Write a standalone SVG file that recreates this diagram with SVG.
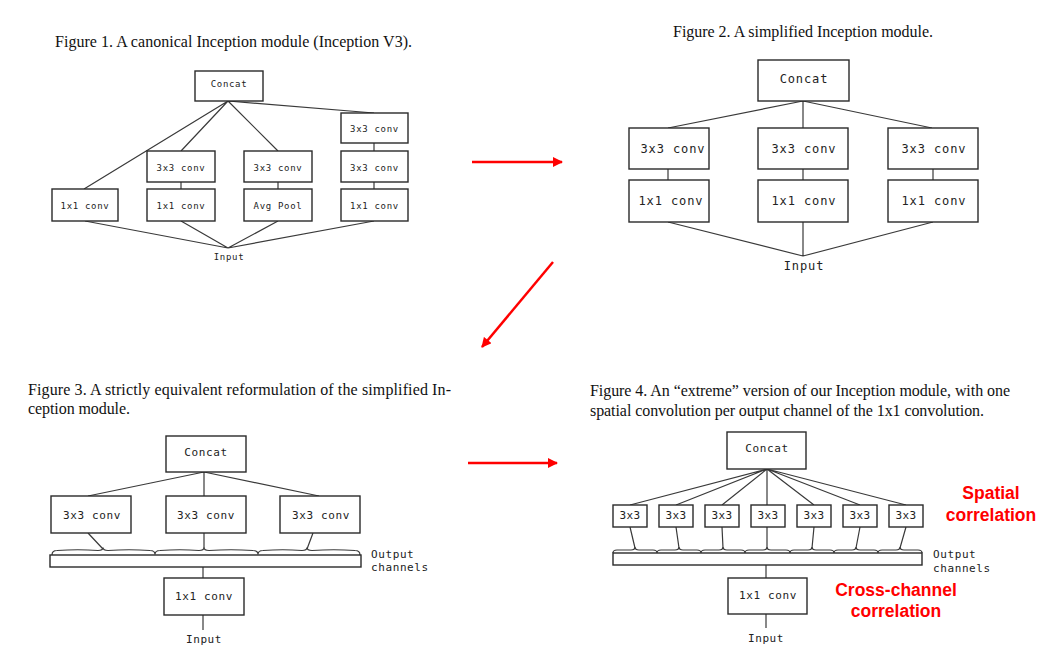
<svg xmlns="http://www.w3.org/2000/svg" width="1050" height="672" viewBox="0 0 1050 672">
<style>
.bg{fill:#ffffff}
.title{font-family:"Liberation Serif","Times New Roman",serif;font-size:16px;fill:#111}
.box{fill:#ffffff;stroke:#2a2a2a;stroke-width:1.4}
.ln{stroke:#3a3a3a;stroke-width:1.2;fill:none}
.m1{font-family:"DejaVu Sans Mono",monospace;font-size:9px;letter-spacing:0.7px;fill:#222;text-anchor:middle}
.m2{font-family:"DejaVu Sans Mono",monospace;font-size:12px;letter-spacing:0.9px;fill:#222;text-anchor:middle}
.m3{font-family:"DejaVu Sans Mono",monospace;font-size:11px;letter-spacing:0.6px;fill:#222;text-anchor:middle}
.m3s{font-family:"DejaVu Sans Mono",monospace;font-size:11px;letter-spacing:0.3px;fill:#222;text-anchor:middle}
.m3l{font-family:"DejaVu Sans Mono",monospace;font-size:11px;letter-spacing:0.6px;fill:#222}
.red{font-family:"Liberation Sans",Arial,sans-serif;font-size:17.5px;font-weight:bold;fill:#ff0000;text-anchor:middle}
.arr{stroke:#ff0000;stroke-width:2.5;fill:none}
</style>
<defs>
<marker id="ah" viewBox="0 0 10 10" refX="9" refY="5" markerWidth="11" markerHeight="10" markerUnits="userSpaceOnUse" orient="auto">
<path d="M0,0 L10,5 L0,10 z" fill="#ff0000"/>
</marker>
</defs>
<rect class="bg" x="0" y="0" width="1050" height="672"/>

<!-- Titles -->
<text class="title" x="55" y="47" textLength="357">Figure 1. A canonical Inception module (Inception V3).</text>
<text class="title" x="673" y="37" textLength="260">Figure 2. A simplified Inception module.</text>
<text class="title" x="28" y="395" textLength="423">Figure 3. A strictly equivalent reformulation of the simplified In-</text>
<text class="title" x="28" y="414" textLength="102">ception module.</text>
<text class="title" x="590" y="396" textLength="420">Figure 4. An “extreme” version of our Inception module, with one</text>
<text class="title" x="590" y="416" textLength="394">spatial convolution per output channel of the 1x1 convolution.</text>

<!-- Connectors -->
<g id="connectors">
  <!-- Fig 1 -->
  <path class="ln" d="M228,101 L84,189 M228,101 L181,151 M228,101 L278,151 M228,101 L374,113"/>
  <path class="ln" d="M181,182 V189 M278,182 V189 M374,143 V151 M374,182 V189"/>
  <path class="ln" d="M85,221 L228,248 M181,221 L228,248 M278,221 L228,248 M374,221 L228,248"/>
  <!-- Fig 2 -->
  <path class="ln" d="M803,101 L668,128 M803,101 V128 M803,101 L932,128"/>
  <path class="ln" d="M668,169 V180 M803,169 V180 M933,169 V180"/>
  <path class="ln" d="M668,222 L803,256 M803,222 V256 M933,222 L803,256"/>
  <!-- Fig 3 -->
  <path class="ln" d="M204,472 L88,496 M204,472 V496 M204,472 L319,496"/>
  <path class="ln" d="M88,533 L103,549 M204,533 V548 M313,533 L307,549"/>
  <path class="ln" d="M52,555 Q52,550.5 57,550.5 Q78,549 98,550.5 Q103,550.5 103,547.5 Q103,550.5 108,550.5 Q129,549 150,550.5 Q155,550.5 155,554.5 Q155,550.5 160,550.5 Q180,549 199,550.5 Q204,550.5 204,547.5 Q204,550.5 209,550.5 Q231,549 253,550.5 Q258,550.5 258,554.5 Q258,550.5 263,550.5 Q283,549 302,550.5 Q307,550.5 307,547.5 Q307,550.5 312,550.5 Q334,549 355,550.5 Q360,550.5 360,555"/>
  <path class="ln" d="M203,567 V578 M203,615 V630"/>
  <!-- Fig 4 -->
  <path class="ln" d="M767,469 L630,505 M767,469 L676,505 M767,469 L722,505 M767,469 V505 M767,469 L814,505 M767,469 L860,505 M767,469 L906,505"/>
  <path class="ln" d="M630,527 L635,548 M676,527 L679,548 M722,527 L723,548 M767,527 V548 M814,527 L812,548 M860,527 L856,548 M906,527 L900,548"/>
  <path class="ln" d="M613,553 Q613,550 617,550 L631,550 Q635,550 635,547 Q635,550 639,550 L653,550 Q657,550 657,553 Q657,550 661,550 L675,550 Q679,550 679,547 Q679,550 683,550 L697,550 Q701,550 701,553 Q701,550 705,550 L719,550 Q723,550 723,547 Q723,550 727,550 L741,550 Q745,550 745,553 Q745,550 749,550 L763,550 Q767,550 767,547 Q767,550 771,550 L786,550 Q790,550 790,553 Q790,550 794,550 L808,550 Q812,550 812,547 Q812,550 816,550 L830,550 Q834,550 834,553 Q834,550 838,550 L852,550 Q856,550 856,547 Q856,550 860,550 L874,550 Q878,550 878,553 Q878,550 882,550 L896,550 Q900,550 900,547 Q900,550 904,550 L918,550 Q922,550 922,553"/>
  <path class="ln" d="M766,565 V578 M766,614 V628"/>
  <!-- Red arrows -->
  <line class="arr" x1="472" y1="162" x2="562" y2="162" marker-end="url(#ah)"/>
  <line class="arr" x1="553" y1="262" x2="482" y2="347" marker-end="url(#ah)"/>
  <line class="arr" x1="468" y1="463" x2="557" y2="463" marker-end="url(#ah)"/>
</g>

<!-- Fig 1 nodes -->
<g id="f1-concat"><rect class="box" x="195" y="71" width="68" height="30"/><text class="m1" x="229" y="87">Concat</text></g>
<g id="f1-r-3x3-top"><rect class="box" x="341" y="113" width="67" height="30"/><text class="m1" x="374.5" y="131.5">3x3 conv</text></g>
<g id="f1-b-3x3"><rect class="box" x="147" y="151" width="68" height="31"/><text class="m1" x="181" y="170.5">3x3 conv</text></g>
<g id="f1-c-3x3"><rect class="box" x="244" y="151" width="68" height="31"/><text class="m1" x="278" y="170.5">3x3 conv</text></g>
<g id="f1-r-3x3"><rect class="box" x="341" y="151" width="67" height="31"/><text class="m1" x="374.5" y="170.5">3x3 conv</text></g>
<g id="f1-a-1x1"><rect class="box" x="52" y="189" width="66" height="32"/><text class="m1" x="85" y="209">1x1 conv</text></g>
<g id="f1-b-1x1"><rect class="box" x="147" y="189" width="68" height="32"/><text class="m1" x="181" y="209">1x1 conv</text></g>
<g id="f1-c-pool"><rect class="box" x="244" y="189" width="68" height="32"/><text class="m1" x="278" y="209">Avg Pool</text></g>
<g id="f1-r-1x1"><rect class="box" x="341" y="189" width="67" height="32"/><text class="m1" x="374.5" y="209">1x1 conv</text></g>
<g id="f1-input"><text class="m1" x="229" y="260">Input</text></g>

<!-- Fig 2 nodes -->
<g id="f2-concat"><rect class="box" x="758" y="60" width="91" height="41"/><text class="m2" x="804" y="83">Concat</text></g>
<g id="f2-a-3x3"><rect class="box" x="629" y="128" width="80" height="41"/><text class="m2" x="673" y="153">3x3 conv</text></g>
<g id="f2-b-3x3"><rect class="box" x="758" y="128" width="90" height="41"/><text class="m2" x="804" y="153">3x3 conv</text></g>
<g id="f2-c-3x3"><rect class="box" x="888" y="128" width="90" height="41"/><text class="m2" x="934" y="153">3x3 conv</text></g>
<g id="f2-a-1x1"><rect class="box" x="629" y="180" width="80" height="42"/><text class="m2" x="671" y="205">1x1 conv</text></g>
<g id="f2-b-1x1"><rect class="box" x="758" y="180" width="90" height="42"/><text class="m2" x="804" y="205">1x1 conv</text></g>
<g id="f2-c-1x1"><rect class="box" x="888" y="180" width="90" height="42"/><text class="m2" x="934" y="205">1x1 conv</text></g>
<g id="f2-input"><text class="m2" x="804" y="270">Input</text></g>

<!-- Fig 3 nodes -->
<g id="f3-concat"><rect class="box" x="166" y="436" width="80" height="36"/><text class="m3" x="206" y="456">Concat</text></g>
<g id="f3-a-3x3"><rect class="box" x="51" y="496" width="80" height="37"/><text class="m3" x="92" y="519">3x3 conv</text></g>
<g id="f3-b-3x3"><rect class="box" x="166" y="496" width="80" height="37"/><text class="m3" x="206" y="519">3x3 conv</text></g>
<g id="f3-c-3x3"><rect class="box" x="280" y="496" width="80" height="37"/><text class="m3" x="321" y="519">3x3 conv</text></g>
<g id="f3-channels"><rect class="box" x="50" y="555" width="311" height="12"/><text class="m3l" x="371" y="558">Output</text><text class="m3l" x="371" y="571">channels</text></g>
<g id="f3-1x1"><rect class="box" x="164" y="578" width="80" height="37"/><text class="m3" x="204" y="600">1x1 conv</text></g>
<g id="f3-input"><text class="m3" x="204" y="643">Input</text></g>

<!-- Fig 4 nodes -->
<g id="f4-concat"><rect class="box" x="727" y="432" width="79" height="37"/><text class="m3" x="767" y="452">Concat</text></g>
<g id="f4-3x3-1"><rect class="box" x="613" y="505" width="34" height="22"/><text class="m3s" x="630" y="519">3x3</text></g>
<g id="f4-3x3-2"><rect class="box" x="659" y="505" width="34" height="22"/><text class="m3s" x="676" y="519">3x3</text></g>
<g id="f4-3x3-3"><rect class="box" x="705" y="505" width="34" height="22"/><text class="m3s" x="722" y="519">3x3</text></g>
<g id="f4-3x3-4"><rect class="box" x="751" y="505" width="34" height="22"/><text class="m3s" x="768" y="519">3x3</text></g>
<g id="f4-3x3-5"><rect class="box" x="797" y="505" width="34" height="22"/><text class="m3s" x="814" y="519">3x3</text></g>
<g id="f4-3x3-6"><rect class="box" x="843" y="505" width="34" height="22"/><text class="m3s" x="860" y="519">3x3</text></g>
<g id="f4-3x3-7"><rect class="box" x="889" y="505" width="34" height="22"/><text class="m3s" x="906" y="519">3x3</text></g>
<g id="f4-channels"><rect class="box" x="613" y="553" width="309" height="12"/><text class="m3l" x="933" y="558">Output</text><text class="m3l" x="933" y="572">channels</text></g>
<g id="f4-1x1"><rect class="box" x="728" y="578" width="79" height="36"/><text class="m3" x="768" y="599">1x1 conv</text></g>
<g id="f4-input"><text class="m3" x="766" y="642">Input</text></g>

<!-- Red annotations -->
<g id="label-spatial"><text class="red" x="991" y="499">Spatial</text><text class="red" x="991" y="521">correlation</text></g>
<g id="label-cross"><text class="red" x="896" y="596">Cross-channel</text><text class="red" x="896" y="617">correlation</text></g>
</svg>
